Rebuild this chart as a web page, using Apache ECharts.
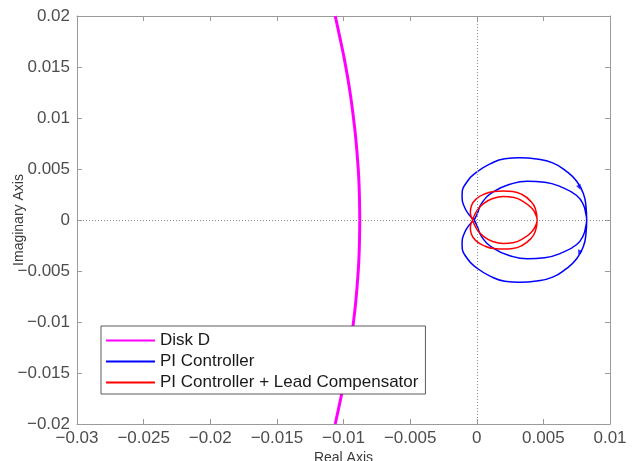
<!DOCTYPE html>
<html><head><meta charset="utf-8">
<script src="https://cdn.jsdelivr.net/npm/echarts@6/dist/echarts.min.js"></script>
<style>html,body{margin:0;padding:0;background:#fff}#c{width:638px;height:461px}</style>
</head><body><div id="c"></div>
<script>
// Disk D (magenta arc)
const diskX = [-0.01062, -0.01029, -0.00997, -0.00969, -0.00945, -0.00925, -0.00908, -0.00895, -0.00885, -0.00880, -0.00878, -0.00880, -0.00885, -0.00895, -0.00908, -0.00925, -0.00945, -0.00969, -0.00997, -0.01029, -0.01062];
const diskY = [0.0200, 0.0180, 0.0160, 0.0140, 0.0120, 0.0100, 0.0080, 0.0060, 0.0040, 0.0020, 0.0000, -0.0020, -0.0040, -0.0060, -0.0080, -0.0100, -0.0120, -0.0140, -0.0160, -0.0180, -0.0200];

// PI Controller (blue): outer loop and inner loop, each from the left cusp round to it again
const piOuterX = [-0.0002, -0.0009, -0.0011, -0.0007, 0.0000, 0.0010, 0.0021, 0.0032, 0.0045, 0.0057, 0.0067, 0.0075, 0.0080, 0.0082, 0.00825, 0.0082, 0.0080, 0.0075, 0.0067, 0.0057, 0.0045, 0.0032, 0.0021, 0.0010, 0.0000, -0.0007, -0.0011, -0.0009, -0.0002];
const piOuterY = [0, 0.0012, 0.0025, 0.0038, 0.0047, 0.0055, 0.0060, 0.0061, 0.00598, 0.0056, 0.0048, 0.0038, 0.0026, 0.0013, 0, -0.0013, -0.0026, -0.0038, -0.0048, -0.0056, -0.00598, -0.0061, -0.0060, -0.0055, -0.0047, -0.0038, -0.0025, -0.0012, 0];
const piInnerX = [-0.0002, 0.0000, 0.0004, 0.0013, 0.0025, 0.0038, 0.0051, 0.0064, 0.0075, 0.0080, 0.0082, 0.00825, 0.0082, 0.0080, 0.0075, 0.0064, 0.0051, 0.0038, 0.0025, 0.0013, 0.0004, 0.0000, -0.0002];
const piInnerY = [0, 0.0005, 0.0017, 0.0028, 0.0035, 0.0038, 0.0037, 0.0032, 0.0024, 0.0015, 0.0005, 0, -0.0005, -0.0015, -0.0024, -0.0032, -0.0037, -0.0038, -0.0035, -0.0028, -0.0017, -0.0005, 0];

// PI Controller + Lead Compensator (red): outer loop and inner loop
const leadOuterX = [-0.0003, -0.00048, -0.0004, 0.0000, 0.0006, 0.0013, 0.0020, 0.0027, 0.0034, 0.0040, 0.0044, 0.00453, 0.0044, 0.0040, 0.0034, 0.0027, 0.0020, 0.0013, 0.0006, 0.0000, -0.0004, -0.00048, -0.0003];
const leadOuterY = [0, 0.0007, 0.0014, 0.0021, 0.00255, 0.0028, 0.00285, 0.0028, 0.0025, 0.0019, 0.0011, 0, -0.0011, -0.0019, -0.0025, -0.0028, -0.00285, -0.0028, -0.00255, -0.0021, -0.0014, -0.0007, 0];
const leadInnerX = [-0.0003, 0.0000, 0.0005, 0.0012, 0.0020, 0.0028, 0.0035, 0.0041, 0.0044, 0.00453, 0.0044, 0.0041, 0.0035, 0.0028, 0.0020, 0.0012, 0.0005, 0.0000, -0.0003];
const leadInnerY = [0, 0.0009, 0.0016, 0.0021, 0.0023, 0.0022, 0.0018, 0.0012, 0.0006, 0, -0.0006, -0.0012, -0.0018, -0.0022, -0.0023, -0.0021, -0.0016, -0.0009, 0];

// Direction arrows on the PI curve
const arrowX = [0.0077, 0.0077];
const arrowY = [0.0032, -0.0032];
const arrowRot = [-156, 156];

const seriesNames = ['Disk D', 'PI Controller', 'PI Controller + Lead Compensator'];

const zip = (xs, ys) => xs.map((x, i) => [x, ys[i]]);
const gap = [['-', '-']];
const fmt = v => { const r = Math.round(v * 1e4) / 1e4; return r < 0 ? '\u2212' + String(-r) : String(r); };
const FONT = 'Liberation Sans';
const frame = '#9a9a9a';
const tickCol = '#4d4d4d';

function xAx(pos, labels) {
  return {
    type: 'value', position: pos, min: -0.03, max: 0.01, interval: 0.005,
    axisLine: { show: true, onZero: false, lineStyle: { color: frame, width: 1 } },
    axisTick: { show: true, inside: true, length: 5, lineStyle: { color: frame } },
    axisLabel: { show: labels, fontSize: 17, color: tickCol, margin: 6, fontFamily: FONT, formatter: fmt },
    splitLine: { show: false },
    name: labels ? 'Real Axis' : '', nameLocation: 'middle', nameGap: 27, nameMoveOverlap: false,
    nameTextStyle: { fontSize: 14, color: '#3a3a3a', fontFamily: FONT }
  };
}
function yAx(pos, labels) {
  return {
    type: 'value', position: pos, min: -0.02, max: 0.02, interval: 0.005,
    axisLine: { show: true, onZero: false, lineStyle: { color: frame, width: 1 } },
    axisTick: { show: true, inside: true, length: 5, lineStyle: { color: frame } },
    axisLabel: { show: labels, fontSize: 17, color: tickCol, margin: 7, fontFamily: FONT, formatter: fmt },
    splitLine: { show: false },
    name: labels ? 'Imaginary Axis' : '', nameLocation: 'middle', nameGap: 51, nameRotate: 90, nameMoveOverlap: false,
    nameTextStyle: { fontSize: 14, color: '#3a3a3a', fontFamily: FONT }
  };
}

const chart = echarts.init(document.getElementById('c'), null, { renderer: 'canvas' });
chart.setOption({
  animation: false,
  backgroundColor: '#fff',
  grid: { left: 77, right: 28, top: 16, bottom: 37, containLabel: false, outerBoundsMode: 'none' },
  xAxis: [xAx('bottom', true), xAx('top', false)],
  yAxis: [yAx('left', true), yAx('right', false)],
  legend: {
    data: seriesNames, orient: 'vertical', left: 101, top: 326,
    itemWidth: 49, itemHeight: 14, itemGap: 4, padding: [6, 7, 3, 4],
    backgroundColor: '#fff', borderColor: '#333', borderWidth: 0.8, borderRadius: 0,
    itemStyle: { opacity: 0 },
    textStyle: { fontSize: 17, lineHeight: 14, color: '#1a1a1a', fontFamily: FONT },
    selectedMode: false
  },
  series: [
    {
      name: 'axes-zero', type: 'line', data: [], symbol: 'none', silent: true, z: 1,
      markLine: {
        silent: true, symbol: ['none', 'none'], label: { show: false },
        lineStyle: { type: [1, 2], color: '#8a8a8a', width: 1 },
        data: [{ xAxis: 0 }, { yAxis: 0 }]
      }
    },
    {
      name: seriesNames[0], type: 'line', data: zip(diskX, diskY), symbol: 'none', smooth: 0.5,
      lineStyle: { color: '#ff00ff', width: 3 }, itemStyle: { color: '#ff00ff' }
    },
    {
      name: seriesNames[1], type: 'line', symbol: 'none', smooth: 0.5, connectNulls: false,
      data: zip(piOuterX, piOuterY).concat(gap, zip(piInnerX, piInnerY)),
      lineStyle: { color: '#0000ff', width: 1.5 }, itemStyle: { color: '#0000ff' }
    },
    {
      name: seriesNames[2], type: 'line', symbol: 'none', smooth: 0.5, connectNulls: false,
      data: zip(leadOuterX, leadOuterY).concat(gap, zip(leadInnerX, leadInnerY)),
      lineStyle: { color: '#ff0000', width: 1.5 }, itemStyle: { color: '#ff0000' }
    },
    {
      name: 'arrows', type: 'scatter', silent: true,
      data: arrowX.map((x, i) => ({ value: [x, arrowY[i]], symbolRotate: arrowRot[i] })),
      symbol: 'triangle', symbolSize: 5, itemStyle: { color: '#0000ff' }
    }
  ]
});
</script></body></html>
